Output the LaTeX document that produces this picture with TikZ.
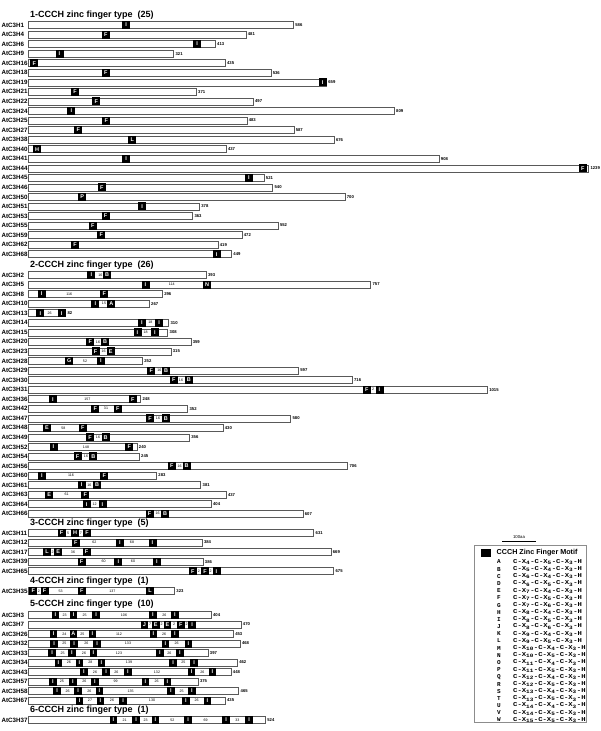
\documentclass[tikz,border=0pt]{standalone}
\usepackage{fontspec}
\setmainfont{Liberation Sans}
\newfontfamily\legmono{Liberation Mono}
\tikzset{
  lbl/.style={anchor=west, inner sep=0pt, font=\bfseries\fontsize{6.2}{7}\selectfont},
  sectitle/.style={anchor=west, inner sep=0pt, font=\bfseries\fontsize{9}{10}\selectfont},
  numl/.style={anchor=west, inner sep=0pt, font=\bfseries\fontsize{4.2}{5}\selectfont},
  gp/.style={inner sep=0pt, font=\fontsize{3.6}{4}\selectfont},
  mf/.style={fill=black, text=white, inner sep=0pt, minimum width=8pt, minimum height=8pt, font=\bfseries\fontsize{5.5}{6}\selectfont},
  barst/.style={draw=black!65, fill=white, line width=0.5pt},
  legl/.style={inner sep=0pt, font=\legmono\bfseries\fontsize{6}{7}\selectfont},
  legf/.style={anchor=west, inner sep=0pt, font=\legmono\bfseries\fontsize{6}{7}\selectfont},
}
\newcommand{\geneA}[4]{%
  \pgfmathsetmacro{\yy}{#1}%
  \pgfmathsetmacro{\xe}{28.5+0.452*#3}%
  \node[lbl] at (1.5,\yy) {AtC3H#2};
  \draw[barst] (28.5,\yy-3.5) rectangle (\xe,\yy+3.5);
  \node[numl] at (\xe+1.8,\yy) {#3};
  \foreach \px/\tx in {#4} {\node[mf] at (\px,\yy) {\tx};}
}
\newcommand{\geneB}[5]{%
  \pgfmathsetmacro{\yy}{#1}%
  \pgfmathsetmacro{\xe}{28.5+0.452*#3}%
  \node[lbl] at (1.5,\yy) {AtC3H#2};
  \draw[barst] (28.5,\yy-3.5) rectangle (\xe,\yy+3.5);
  \node[numl] at (\xe+1.8,\yy) {#3};
  \foreach \px/\tx in {#4} {\node[mf] at (\px,\yy) {\tx};}
  \foreach \px/\tx in {#5} {\node[gp] at (\px,\yy) {\tx};}
}
\newcommand{\legrow}[4]{%
  \pgfmathsetmacro{\yy}{562+7.18*#1}%
  \node[legl] at (499,\yy) {#2};
  \node[legf] at (513,\yy) {\scalebox{1.2}[1]{C-X\textsubscript{#3}-C-X\textsubscript{#4}-C-X\textsubscript{3}-H}};
}
\begin{document}
\begin{tikzpicture}[x=1pt,y=-1pt]
\useasboundingbox (0,0) rectangle (600,731);
\fill[white] (0,0) rectangle (600,731);

% ---- 1-CCCH
\node[sectitle] (t1) at (30,15) {1-CCCH zinc finger type~~(25)};
\geneA{25+9.55*0}{1}{586}{126.2/I}
\geneA{25+9.55*1}{4}{481}{105.8/F}
\geneA{25+9.55*2}{6}{413}{197.2/I}
\geneA{25+9.55*3}{9}{321}{59.5/I}
\geneA{25+9.55*4}{16}{435}{34.2/F}
\geneA{25+9.55*5}{18}{536}{105.8/F}
\geneA{25+9.55*6}{19}{659}{322.7/I}
\geneA{25+9.55*7}{21}{371}{75/F}
\geneA{25+9.55*8}{22}{497}{96.3/F}
\geneA{25+9.55*9}{24}{809}{71.3/I}
\geneA{25+9.55*10}{25}{483}{106.3/F}
\geneA{25+9.55*11}{27}{587}{78.3/F}
\geneA{25+9.55*12}{38}{676}{132.2/L}
\geneA{25+9.55*13}{40}{437}{37/H}
\geneA{25+9.55*14}{41}{908}{126.2/I}
\geneA{25+9.55*15}{44}{1239}{582.7/F}
\geneA{25+9.55*16}{45}{521}{248.8/I}
\geneA{25+9.55*17}{46}{540}{101.7/F}
\geneA{25+9.55*18}{50}{700}{82.2/P}
\geneA{25+9.55*19}{51}{378}{142.2/I}
\geneA{25+9.55*20}{53}{363}{105.5/F}
\geneA{25+9.55*21}{55}{552}{92.8/F}
\geneA{25+9.55*22}{59}{472}{101.2/F}
\geneA{25+9.55*23}{62}{419}{75/F}
\geneA{25+9.55*24}{68}{449}{216.7/I}

% ---- 2-CCCH
\node[sectitle] (t2) at (30,265) {2-CCCH zinc finger type~~(26)};
\geneB{275+9.55*0}{2}{393}{91.3/I,107.2/B}{100.3/16}
\geneB{275+9.55*1}{5}{757}{145.5/I,207/N}{171.7/114}
\geneB{275+9.55*2}{8}{296}{41.7/I,104.2/F}{69.3/116}
\geneB{275+9.55*3}{10}{267}{95.3/I,111.3/A}{104/15}
\geneB{275+9.55*4}{13}{82}{40.3/I,61.7/I}{49.7/26}
\geneB{275+9.55*5}{14}{310}{141.8/I,159.2/I}{150.3/18}
\geneB{275+9.55*6}{15}{308}{137.5/I,155/I}{145.7/18}
\geneB{275+9.55*7}{20}{359}{90.2/F,105/B}{98/16}
\geneB{275+9.55*8}{23}{315}{95.5/F,110.8/E}{103.7/16}
\geneB{275+9.55*9}{28}{252}{69.2/G,101/I}{85/52}
\geneB{275+9.55*10}{29}{597}{151.2/F,166.2/B}{159.3/16}
\geneB{275+9.55*11}{30}{716}{173.8/F,188.8/B}{181/16}
\geneB{275+9.55*12}{31}{1015}{366.7/F,379.5/I}{373.1/2}
\geneB{275+9.55*13}{36}{248}{53/I,132.8/F}{87.3/157}
\geneB{275+9.55*14}{42}{352}{95.2/F,117.8/F}{106/31}
\geneB{275+9.55*15}{47}{580}{150/F,165.8/B}{158/16}
\geneB{275+9.55*16}{48}{430}{47/E,82.7/F}{63.3/58}
\geneB{275+9.55*17}{49}{356}{90/F,105.5/B}{98/16}
\geneB{275+9.55*18}{52}{240}{53.5/I,129.2/F}{86/148}
\geneB{275+9.55*19}{54}{245}{77.5/F,93.3/B}{86/16}
\geneB{275+9.55*20}{56}{706}{171.7/F,186.7/B}{179.7/16}
\geneB{275+9.55*21}{60}{283}{41.8/I,104.2/F}{71/116}
\geneB{275+9.55*22}{61}{381}{81.7/I,97.2/B}{89.3/16}
\geneB{275+9.55*23}{63}{437}{49.2/E,85.2/F}{66.7/61}
\geneB{275+9.55*24}{64}{404}{86.7/I,102.5/I}{94.6/12}
\geneB{275+9.55*25}{66}{607}{149.5/F,165/B}{157.7/16}

% ---- 3-CCCH
\node[sectitle] (t3) at (30,523) {3-CCCH zinc finger type~~(5)};
\geneB{533+9.55*0}{11}{631}{61.5/F,75/H,87/F}{68.2/5,81/7}
\geneB{533+9.55*1}{12}{384}{75.8/F,119.8/I,152.5/I}{94.3/62,132/68}
\geneB{533+9.55*2}{17}{669}{47/L,58.3/E,86.5/F}{52.7/2,73/36}
\geneB{533+9.55*3}{39}{386}{81.5/F,118.3/I,156.8/I}{103.7/60,133/60}
\geneB{533+9.55*4}{65}{675}{192.8/F,205/F,216.5/I}{198.9/2,210.7/2}

% ---- 4-CCCH
\node[sectitle] (t4) at (30,581) {4-CCCH zinc finger type~~(1)};
\geneB{591}{35}{323}{33.3/F,44.5/F,81.7/F,150/L}{38.9/2,60.7/53,112.3/137}

% ---- 5-CCCH
\node[sectitle] (t5) at (30,604) {5-CCCH zinc finger type~~(10)};
\begin{scope}[mf/.append style={minimum width=7.5pt}]
\geneB{615+9.5*0}{3}{404}{55.3/I,73.7/I,96.2/I,152.8/I,175/I}{64.7/23,84.7/25,124/106,164.3/26}
\geneB{615+9.5*1}{7}{470}{144.5/J,155.8/E,167.5/E,180.8/F,192.2/I}{150.1/7,161.7/2,174.1/2,186.5/2}
\geneB{615+9.5*2}{26}{453}{53.7/I,73.3/A,92.5/I,153.3/I,174.8/I}{64.3/24,82.3/25,119/112,164/26}
\geneB{615+9.5*3}{32}{468}{54.2/I,74.2/I,97.2/I,165.5/I,188.3/I}{64.3/25,86.3/26,128/133,176.7/26}
\geneB{615+9.5*4}{33}{397}{52.2/I,71.8/I,93.3/I,159.8/I,180/I}{62.7/25,84/26,119/123,169.3/26}
\geneB{615+9.5*5}{34}{462}{58.3/I,79.5/I,101.5/I,173.2/I,194.2/I}{69/26,90.3/28,129/139,183.3/25}
\geneB{615+9.5*6}{43}{448}{83.8/I,106.2/I,127.8/I,191.7/I,212.5/I}{95/26,116.3/26,157/132,202.3/26}
\geneB{615+9.5*7}{57}{375}{52.8/I,72.8/I,95/I,145.5/I,167.5/I}{62/25,84.3/26,115.7/99,156.7/26}
\geneB{615+9.5*8}{58}{465}{57.2/I,78.2/I,99.5/I,170.8/I,191.8/I}{67.7/26,89.3/26,130.7/135,181.7/25}
\geneB{615+9.5*9}{67}{435}{79.7/I,100.5/I,123.2/I,185.8/I,207.5/I}{90/27,112/26,152/130,196.7/26}

% ---- 6-CCCH
\node[sectitle] (t6) at (30,710) {6-CCCH zinc finger type~~(1)};
\geneB{720}{37}{524}{113.3/I,136.2/I,155.5/I,188.2/I,226.2/I,249.2/I}{124.7/21,145.7/23,172.3/52,205.7/69,237.3/33}
\end{scope}

% ---- scale bar
\coordinate (sbl) at (502,541);
\coordinate (sbr) at (536,541);
\draw[line width=0.5pt] (sbl) -- (sbr);
\node[inner sep=0pt, font=\fontsize{4.3}{5}\selectfont] (sbt) at (519,537) {100aa};

% ---- legend
\draw[draw=black!45, line width=0.8pt] (474,545) rectangle (586,722);
\fill[black] (481,549) rectangle (491,557);
\node[anchor=west, inner sep=0pt, font=\bfseries\fontsize{7.2}{8}\selectfont] (legt) at (496.5,553) {CCCH Zinc Finger Motif};
\legrow{0}{A}{4}{5}
\legrow{1}{B}{5}{4}
\legrow{2}{C}{6}{4}
\legrow{3}{D}{6}{5}
\legrow{4}{E}{7}{4}
\legrow{5}{F}{7}{5}
\legrow{6}{G}{7}{6}
\legrow{7}{H}{8}{4}
\legrow{8}{I}{8}{5}
\legrow{9}{J}{8}{6}
\legrow{10}{K}{9}{4}
\legrow{11}{L}{9}{5}
\legrow{12}{M}{10}{4}
\legrow{13}{N}{10}{5}
\legrow{14}{O}{11}{4}
\legrow{15}{P}{11}{5}
\legrow{16}{Q}{12}{4}
\legrow{17}{R}{12}{5}
\legrow{18}{S}{13}{4}
\legrow{19}{T}{13}{5}
\legrow{20}{U}{14}{4}
\legrow{21}{V}{14}{5}
\legrow{22}{W}{15}{5}
\end{tikzpicture}
\end{document}
